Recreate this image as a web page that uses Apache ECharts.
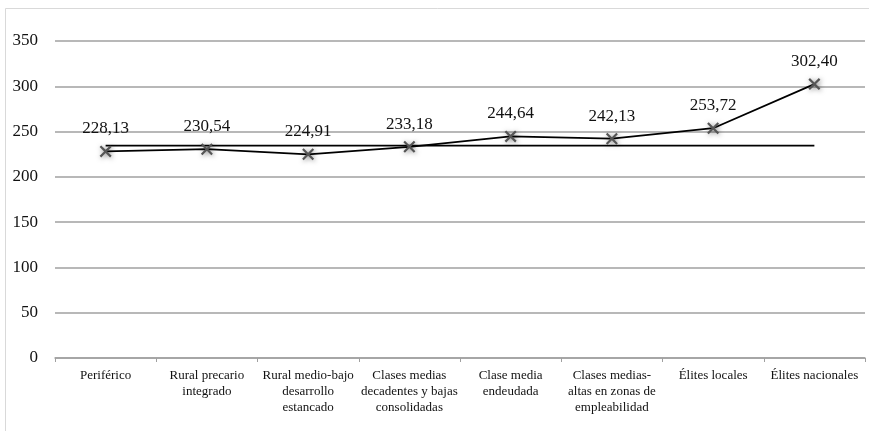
<!DOCTYPE html>
<html>
<head>
<meta charset="utf-8">
<script src="https://cdn.jsdelivr.net/npm/echarts@6/dist/echarts.min.js"></script>
<style>
html,body{margin:0;padding:0;background:#fff;}
#c{width:869px;height:431px;}
</style>
</head>
<body>
<div id="c"></div>
<script>
const categories = [
  "Periférico",
  "Rural precario\nintegrado",
  "Rural medio-bajo\ndesarrollo\nestancado",
  "Clases medias\ndecadentes y bajas\nconsolidadas",
  "Clase media\nendeudada",
  "Clases medias-\naltas en zonas de\nempleabilidad",
  "Élites locales",
  "Élites nacionales"
];
const values = [228.13, 230.54, 224.91, 233.18, 244.64, 242.13, 253.72, 302.40];
const average = [234.5, 234.5, 234.5, 234.5, 234.5, 234.5, 234.5, 234.5];
const yTicks = { min: 0, max: 350, interval: 50 };

const chart = echarts.init(document.getElementById('c'), null, { renderer: 'canvas' });
const serif = '"Liberation Serif", "DejaVu Serif", serif';
const xPath = 'path://M0,1.3 L1.3,0 L5,3.7 L8.7,0 L10,1.3 L6.3,5 L10,8.7 L8.7,10 L5,6.3 L1.3,10 L0,8.7 L3.7,5 Z';

chart.setOption({
  animation: false,
  backgroundColor: '#fff',
  graphic: [{
    type: 'rect',
    shape: { x: 5.5, y: 8.5, width: 900, height: 460 },
    style: { fill: 'none', stroke: '#d9d9d9', lineWidth: 1 },
    silent: true,
    z: -1
  }],
  grid: { left: 55, right: 4, top: 41, bottom: 73 },
  xAxis: {
    type: 'category',
    data: categories,
    boundaryGap: true,
    axisLine: { lineStyle: { color: '#a0a0a0', width: 1.5 } },
    axisTick: { show: true, length: 4, lineStyle: { color: '#a0a0a0' } },
    axisLabel: {
      interval: 0,
      margin: 10,
      fontFamily: serif,
      fontSize: 13,
      lineHeight: 16,
      color: '#111'
    }
  },
  yAxis: {
    type: 'value',
    min: yTicks.min,
    max: yTicks.max,
    interval: yTicks.interval,
    axisLine: { show: false },
    axisTick: { show: false },
    axisLabel: { fontFamily: serif, fontSize: 17, color: '#111', margin: 17 },
    splitLine: { lineStyle: { color: '#a0a0a0', width: 1.5 } }
  },
  series: [
    {
      name: 'Media',
      type: 'line',
      data: average,
      symbol: 'none',
      lineStyle: { color: '#000', width: 1.8 },
      z: 2
    },
    {
      name: 'Valor',
      type: 'line',
      data: values,
      symbol: xPath,
      symbolSize: 12,
      itemStyle: {
        color: '#555',
        shadowColor: 'rgba(0,0,0,0.5)',
        shadowBlur: 5,
        shadowOffsetX: 1,
        shadowOffsetY: 1
      },
      lineStyle: { color: '#000', width: 1.8 },
      label: {
        show: true,
        position: 'top',
        distance: 8,
        fontFamily: serif,
        fontSize: 17,
        color: '#111',
        formatter: p => p.value.toFixed(2).replace('.', ',')
      },
      z: 3
    }
  ]
});
</script>
</body>
</html>
